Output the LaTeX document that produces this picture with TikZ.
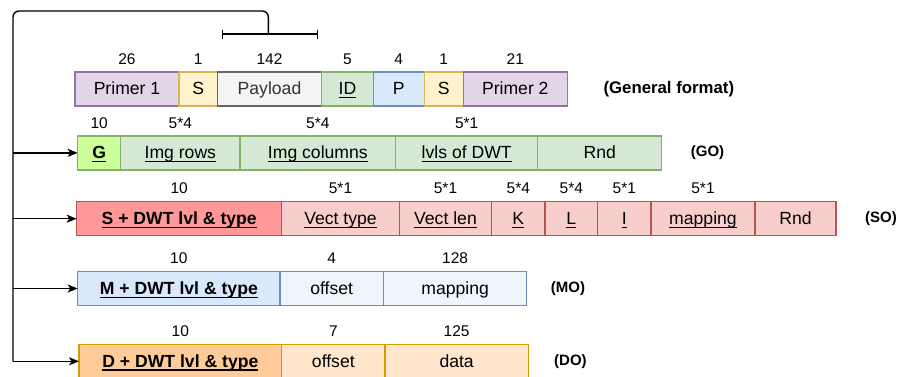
\documentclass[tikz,border=0pt]{standalone}
\usepackage{fontspec}
\setmainfont{Liberation Sans}
\usetikzlibrary{positioning,arrows.meta}

\definecolor{primerfill}{HTML}{E1D5E7}
\definecolor{primerline}{HTML}{9673A6}
\definecolor{syncfill}{HTML}{FFF2CC}
\definecolor{syncline}{HTML}{D6B656}
\definecolor{payfill}{HTML}{F5F5F5}
\definecolor{payline}{HTML}{666666}
\definecolor{paytext}{HTML}{333333}
\definecolor{greenfill}{HTML}{D5E8D4}
\definecolor{greenline}{HTML}{82B366}
\definecolor{greenhead}{HTML}{CCFF99}
\definecolor{bluefill}{HTML}{DAE8FC}
\definecolor{blueline}{HTML}{6C8EBF}
\definecolor{bluelight}{HTML}{EEF6FB}
\definecolor{redhead}{HTML}{FF9999}
\definecolor{redfill}{HTML}{F8CECC}
\definecolor{redline}{HTML}{B85450}
\definecolor{orangehead}{HTML}{FFCC99}
\definecolor{orangefill}{HTML}{FFE6CC}
\definecolor{orangeline}{HTML}{D79B00}

% underline at a fixed depth, whatever the letters
\newcommand{\undl}[1]{\setbox0\hbox{#1}\rlap{\rule[-3.6pt]{\wd0}{1.3pt}}\box0}

\begin{document}
\begin{tikzpicture}[x=1pt,y=-1pt,label distance=7.5pt]
    \tikzstyle{cell}=[draw,line width=1.3pt,outer sep=0pt,inner sep=0pt,minimum height=34pt,
      text height=13.5pt,text depth=2pt,font=\fontsize{17.6}{20}\selectfont]
    \tikzstyle{num}=[font=\fontsize{15.5}{18}\selectfont,inner sep=0pt]
    \tikzstyle{tag}=[font=\fontsize{15}{18}\selectfont\bfseries,inner sep=0pt]
    \tikzstyle{primer}=[fill=primerfill,draw=primerline]
    \tikzstyle{sync}=[fill=syncfill,draw=syncline]
    \tikzstyle{payload}=[fill=payfill,draw=payline,text=paytext]
    \tikzstyle{gocell}=[fill=greenfill,draw=greenline]
    \tikzstyle{pcell}=[fill=bluefill,draw=blueline]
    \tikzstyle{socell}=[fill=redfill,draw=redline]
    \tikzstyle{mocell}=[fill=bluelight,draw=blueline]
    \tikzstyle{docell}=[fill=orangefill,draw=orangeline]
    \tikzstyle{wire}=[line width=1.4pt,black]
    \useasboundingbox (0,0) rectangle (898,376);

    % general format
    \node[cell,primer,minimum width=104pt,anchor=west,label={[num]above:26}] (p1) at (75,88.85) {Primer 1};
    \node[cell,sync,minimum width=38.3pt,right=0pt of p1,label={[num]above:1}] (s1) {S};
    \node[cell,payload,minimum width=104.4pt,right=0pt of s1,label={[num]above:142}] (pay) {Payload};
    \node[cell,gocell,minimum width=51.6pt,right=0pt of pay,label={[num]above:5}] (id) {\undl{ID}};
    \node[cell,pcell,minimum width=51pt,right=0pt of id,label={[num]above:4}] (pp) {P};
    \node[cell,sync,minimum width=39pt,right=0pt of pp,label={[num]above:1}] (s2) {S};
    \node[cell,primer,minimum width=104pt,right=0pt of s2,label={[num]above:21}] (p2) {Primer 2};
    \node[tag,font=\fontsize{16.8}{20}\selectfont\bfseries,right=36pt of p2] (gen) {(General format)};

    % GO
    \node[cell,gocell,fill=greenhead,minimum width=43pt,anchor=west,label={[num]above:10}] (go1) at (77.7,152.85) {\textbf{\undl{G}}};
    \node[cell,gocell,minimum width=119.3pt,right=0pt of go1,label={[num]above:5*4}] (go2) {\undl{Img rows}};
    \node[cell,gocell,minimum width=155.7pt,right=0pt of go2,label={[num]above:5*4}] (go3) {\undl{Img columns}};
    \node[cell,gocell,minimum width=142pt,right=0pt of go3,label={[num]above:5*1}] (go4) {\undl{lvls of DWT}};
    \node[cell,gocell,minimum width=124pt,right=0pt of go4] (go5) {Rnd};
    \node[tag,right=29pt of go5] (gotag) {(GO)};

    % SO
    \node[cell,socell,fill=redhead,minimum width=205pt,anchor=west,label={[num]above:10}] (so1) at (76.7,218.7) {\textbf{\undl{S + DWT lvl \& type}}};
    \node[cell,socell,minimum width=117.6pt,right=0pt of so1,label={[num]above:5*1}] (so2) {\undl{Vect type}};
    \node[cell,socell,minimum width=92.4pt,right=0pt of so2,label={[num]above:5*1}] (so3) {\undl{Vect len}};
    \node[cell,socell,minimum width=53.3pt,right=0pt of so3,label={[num]above:5*4}] (so4) {\undl{K}};
    \node[cell,socell,minimum width=52.7pt,right=0pt of so4,label={[num]above:5*4}] (so5) {\undl{L}};
    \node[cell,socell,minimum width=53.3pt,right=0pt of so5,label={[num]above:5*1}] (so6) {\undl{I}};
    \node[cell,socell,minimum width=104pt,right=0pt of so6,label={[num]above:5*1}] (so7) {\undl{mapping}};
    \node[cell,socell,minimum width=81pt,right=0pt of so7] (so8) {Rnd};
    \node[tag,right=29pt of so8] (sotag) {(SO)};

    % MO
    \node[cell,mocell,fill=bluefill,minimum width=202.3pt,anchor=west,label={[num]above:10}] (mo1) at (77.7,288.5) {\textbf{\undl{M + DWT lvl \& type}}};
    \node[cell,mocell,minimum width=103.5pt,right=0pt of mo1,label={[num]above:4}] (mo2) {offset};
    \node[cell,mocell,minimum width=143.2pt,right=0pt of mo2,label={[num]above:128}] (mo3) {mapping};
    \node[tag,right=24pt of mo3] (motag) {(MO)};

    % DO
    \node[cell,docell,fill=orangehead,minimum width=202.7pt,anchor=west,label={[num]above:10}] (do1) at (79,361.3) {\textbf{\undl{D + DWT lvl \& type}}};
    \node[cell,docell,minimum width=103.3pt,right=0pt of do1,label={[num]above:7}] (do2) {offset};
    \node[cell,docell,minimum width=143.3pt,right=0pt of do2,label={[num]above:125}] (do3) {data};
    \node[tag,right=25.7pt of do3] (dotag) {(DO)};

    % payload span and the bus down to the four frames
    \coordinate (brL) at (221.7,34);
    \coordinate (brR) at (318.3,34);
    \coordinate (brM) at (268.3,34);
    \coordinate (busTop) at (13,11);
    \draw[wire,{Bar[width=9pt]}-{Bar[width=9pt]}] (brL) -- (brR);
    \draw[wire,rounded corners=6pt] (brM) |- (busTop) -- (busTop |- do1.west);
    \foreach \n in {go1,so1,mo1,do1}
      \draw[wire,-{Stealth[length=10pt,width=8pt,inset=2.5pt]}] (busTop |- \n.west) -- (\n.west);
\end{tikzpicture}
\end{document}
